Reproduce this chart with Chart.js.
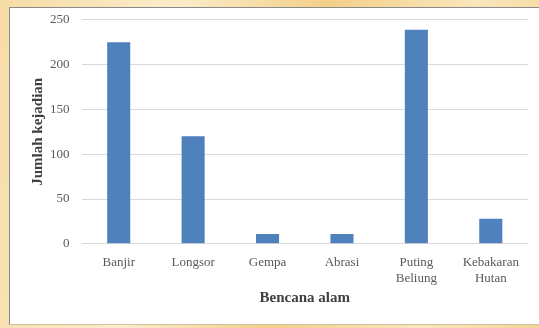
<!DOCTYPE html>
<html>
<head>
<meta charset="utf-8">
<script src="https://cdn.jsdelivr.net/npm/chart.js@4"></script>
<style>
  html, body { margin: 0; padding: 0; }
  body {
    width: 539px; height: 328px; overflow: hidden; position: relative;
    background: linear-gradient(100deg, #f6dca6 0%, #fbeccb 30%, #f3cf8a 55%, #fae6bb 80%, #f4d497 100%);
  }
  #frame {
    position: absolute; left: 9px; top: 7px; width: 535px; height: 316px;
    background: #fff; border-left: 1px solid #8a8a8a; border-top: 1px solid #8a8a8a;
    border-bottom: 1px solid #d0c0a0;
  }
  #chart { position: absolute; left: 0; top: 0; display: block; }
</style>
</head>
<body>
<div id="frame"></div>
<canvas id="chart" width="539" height="328"></canvas>
<script>
// Data
const categories = ['Banjir', 'Longsor', 'Gempa', 'Abrasi', ['Puting', 'Beliung'], ['Kebakaran', 'Hutan']];
const jumlah = [225, 120, 11, 11, 239, 28];
const yTicks = [0, 50, 100, 150, 200, 250];

const serif = "'Liberation Serif', 'Times New Roman', serif";

const ctx = document.getElementById('chart').getContext('2d');
new Chart(ctx, {
    type: 'bar',
    data: {
        labels: categories,
        datasets: [{
            label: 'Jumlah kejadian',
            data: jumlah,
            backgroundColor: '#4f81bd',
            categoryPercentage: 1,
            barPercentage: 0.31
        }]
    },
    options: {
        responsive: false,
        animation: false,
        layout: { padding: { top: 5, right: 11, left: 29, bottom: 21 } },
        plugins: {
            legend: { display: false },
            tooltip: { enabled: false }
        },
        scales: {
            x: {
                grid: { display: false },
                border: { display: false },
                ticks: { color: '#595959', font: { family: serif, size: 13 }, padding: 3, maxRotation: 0 },
                title: {
                    display: true, text: 'Bencana alam', color: '#404040',
                    font: { family: serif, size: 15, weight: 'bold' }, padding: { top: 0, bottom: 0 }
                }
            },
            y: {
                min: yTicks[0],
                max: yTicks[yTicks.length - 1],
                afterBuildTicks: (axis) => { axis.ticks = yTicks.map(v => ({ value: v })); },
                grid: { color: '#d9d9d9', lineWidth: 1, drawTicks: false },
                border: { display: false },
                ticks: { color: '#595959', font: { family: serif, size: 13 }, padding: 12 },
                title: {
                    display: true, text: 'Jumlah kejadian', color: '#404040',
                    font: { family: serif, size: 15, weight: 'bold' }, padding: { top: 0, bottom: -9 }
                }
            }
        }
    }
});
</script>
</body>
</html>
